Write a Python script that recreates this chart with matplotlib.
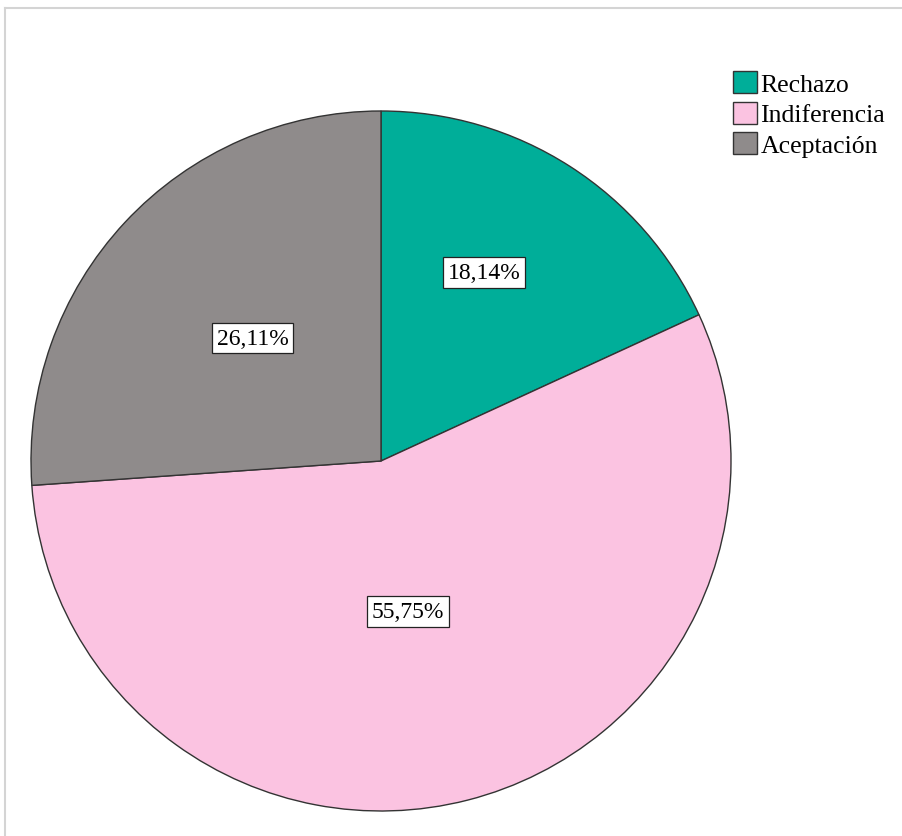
import numpy as np
import matplotlib.pyplot as plt
from matplotlib.patches import Patch
from matplotlib.lines import Line2D

plt.rcParams['font.family'] = ['Liberation Serif', 'DejaVu Serif']

# datos
categorias = ['Rechazo', 'Indiferencia', 'Aceptación']
porcentajes = [18.14, 55.75, 26.11]
etiquetas = ['18,14%', '55,75%', '26,11%']
colores = ['#00AE99', '#FBC3E1', '#8F8B8B']

fig = plt.figure(figsize=(9.02, 8.37), dpi=100)
W, H = 902, 837

# ejes del pastel: centro (381, 462) px, radio 350 px
ax = fig.add_axes([31 / W, (H - 812) / H, 700 / W, 700 / H])
wedges, _ = ax.pie(porcentajes, colors=colores, startangle=90, counterclock=False,
                   wedgeprops=dict(edgecolor='#333333', linewidth=1.0))
ax.set_xlim(-1, 1)
ax.set_ylim(-1, 1)
ax.set_aspect('equal')
ax.axis('off')

# etiquetas en recuadros (posición: radio y desvío angular respecto al centro de la porción)
radios = [0.614, 0.437, 0.508]
desvios = [4.0, -4.2, -0.7]
for w, et, r, d in zip(wedges, etiquetas, radios, desvios):
    medio = np.deg2rad((w.theta1 + w.theta2) / 2 + d)
    x, y = r * np.cos(medio), r * np.sin(medio)
    ax.text(x, y, et, ha='center', va='center', fontsize=17,
            bbox=dict(boxstyle='square,pad=0.2', facecolor='white',
                      edgecolor='#222222', linewidth=0.9))

# leyenda
manejadores = [Patch(facecolor=c, edgecolor='#333333', linewidth=1.0) for c in colores]
fig.legend(manejadores, categorias, loc='upper left',
           bbox_to_anchor=(733 / W, 1 - 72 / H), frameon=False, fontsize=18.5,
           handlelength=0.95, handleheight=0.95, handletextpad=0.12,
           labelspacing=0.22, borderaxespad=0, borderpad=0)

# marco gris (solo bordes superior e izquierdo visibles)
fig.add_artist(Line2D([4.5 / W, 4.5 / W], [0, 1 - 8.5 / H], transform=fig.transFigure,
                      color='#d4d4d4', linewidth=1.5))
fig.add_artist(Line2D([4.5 / W, 1], [1 - 8.5 / H, 1 - 8.5 / H], transform=fig.transFigure,
                      color='#d4d4d4', linewidth=1.5))

fig.savefig('out.png', dpi=100)
